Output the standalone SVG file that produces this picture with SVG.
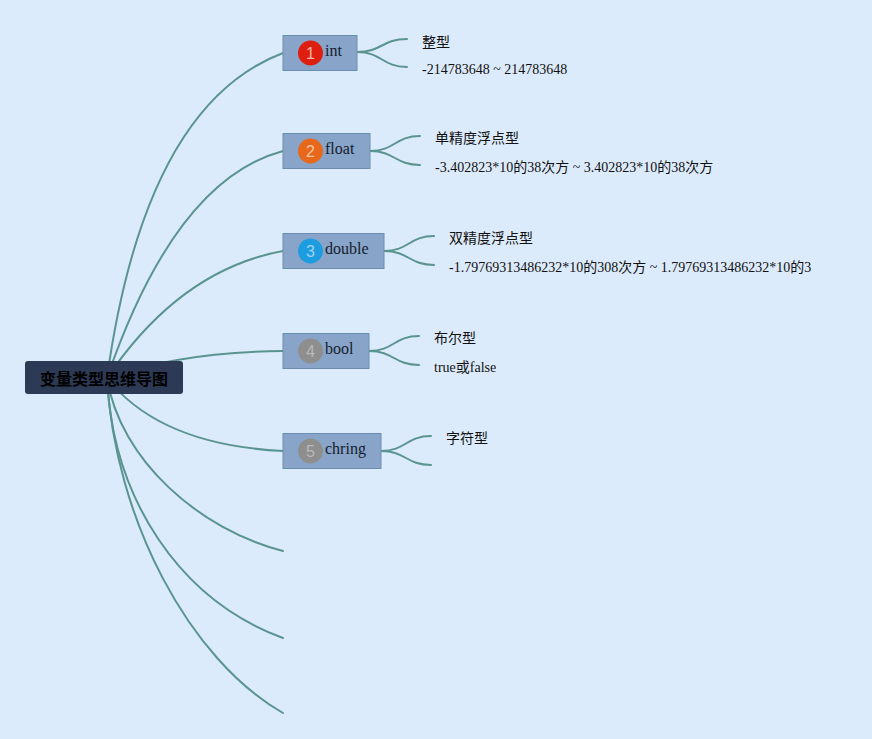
<svg xmlns="http://www.w3.org/2000/svg" width="872" height="739" viewBox="0 0 872 739">
<style>
.ln{fill:none;stroke:#5a9490;stroke-width:2;stroke-linecap:round}
.box{fill:#88a5c9;stroke:#6a8db2;stroke-width:1}
.lbl{font-family:"Liberation Serif","Noto Sans CJK SC",serif;font-size:16px;fill:#15202e}
.num{font-family:"Liberation Sans","Noto Sans",sans-serif;font-size:16px;text-anchor:middle}
.sub{font-family:"Liberation Serif","Noto Sans CJK SC",serif;font-size:14px;fill:#111}
.root{font-family:"Noto Sans CJK SC","Liberation Sans",sans-serif;font-size:16px;font-weight:bold;fill:#000;text-anchor:middle}
</style>
<rect x="0" y="0" width="872" height="739" fill="#dcebfb"/>
<g id="connectors">
<path class="ln" d="M107,378 Q145,105 283,53"/>
<path class="ln" d="M107,378 Q175,180 283,151"/>
<path class="ln" d="M107,378 Q180,270 283,251"/>
<path class="ln" d="M107,378 Q180,352 283,351"/>
<path class="ln" d="M107,378 Q160,445 283,451"/>
<path class="ln" d="M107,378 C120,460 200,530 283,551"/>
<path class="ln" d="M107,378 C113,500 180,600 283,638"/>
<path class="ln" d="M107,378 C115,520 190,660 283,713"/>
<path class="ln" d="M357,52 C382,52 382,39 407,39"/>
<path class="ln" d="M357,52 C382,52 382,67 407,67"/>
<path class="ln" d="M370,151 C395,151 395,136 420,136"/>
<path class="ln" d="M370,151 C395,151 395,165 420,165"/>
<path class="ln" d="M384,251 C409,251 409,236 434,236"/>
<path class="ln" d="M384,251 C409,251 409,265 434,265"/>
<path class="ln" d="M369,351 C394,351 394,336 419,336"/>
<path class="ln" d="M369,351 C394,351 394,365 419,365"/>
<path class="ln" d="M381,451 C406,451 406,436 431,436"/>
<path class="ln" d="M381,451 C406,451 406,465 431,465"/>
</g>
<g id="root">
<rect x="25" y="361" width="158" height="33" rx="3" fill="#2d3a55"/>
<text class="root" x="104" y="385">变量类型思维导图</text>
</g>
<g id="node-int">
<rect class="box" x="283" y="35.5" width="74" height="35"/>
<circle cx="310.5" cy="53" r="12.5" fill="#de1f10"/>
<text class="num" x="310.5" y="59" fill="#f6b5ae">1</text>
<text class="lbl" x="325" y="56">int</text>
</g>
<g id="node-float">
<rect class="box" x="283" y="133.5" width="87" height="35"/>
<circle cx="310.5" cy="151" r="12.5" fill="#e8681b"/>
<text class="num" x="310.5" y="157" fill="#f7c4a4">2</text>
<text class="lbl" x="325" y="154">float</text>
</g>
<g id="node-double">
<rect class="box" x="283" y="233.5" width="101" height="35"/>
<circle cx="310.5" cy="251" r="12.5" fill="#1d9ce0"/>
<text class="num" x="310.5" y="257" fill="#9fd3f2">3</text>
<text class="lbl" x="325" y="254">double</text>
</g>
<g id="node-bool">
<rect class="box" x="283" y="333.5" width="86" height="35"/>
<circle cx="310.5" cy="351" r="12.5" fill="#8e8e8e"/>
<text class="num" x="310.5" y="357" fill="#b9b9b9">4</text>
<text class="lbl" x="325" y="354">bool</text>
</g>
<g id="node-chring">
<rect class="box" x="283" y="433.5" width="98" height="35"/>
<circle cx="310.5" cy="451" r="12.5" fill="#8e8e8e"/>
<text class="num" x="310.5" y="457" fill="#b9b9b9">5</text>
<text class="lbl" x="325" y="454">chring</text>
</g>
<g id="leaves">
<text class="sub" x="422" y="47">整型</text>
<text class="sub" x="422" y="74">-214783648 ~ 214783648</text>
<text class="sub" x="435" y="143">单精度浮点型</text>
<text class="sub" x="435" y="172">-3.402823*10的38次方 ~ 3.402823*10的38次方</text>
<text class="sub" x="449" y="243">双精度浮点型</text>
<text class="sub" x="449" y="272">-1.79769313486232*10的308次方 ~ 1.79769313486232*10的3</text>
<text class="sub" x="434" y="343">布尔型</text>
<text class="sub" x="434" y="372">true或false</text>
<text class="sub" x="446" y="443">字符型</text>
</g>
</svg>
